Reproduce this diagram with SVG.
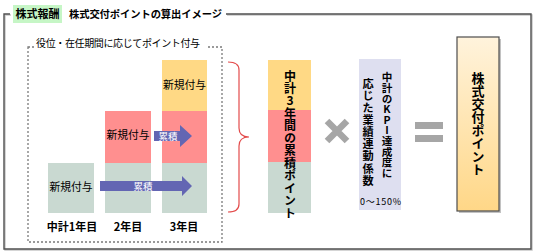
<svg xmlns="http://www.w3.org/2000/svg" width="533" height="252" viewBox="0 0 533 252">
<defs>
<style>
text{font-family:"Noto Sans CJK JP","Liberation Sans",sans-serif;fill:#000}
.b{font-weight:bold}
.vt{writing-mode:vertical-rl;text-orientation:upright}
.grn{fill:#c9d9d1}
.red{fill:#ff8f8f}
.yel{fill:#ffd985}
.arw{fill:#6366b3}
</style>
<linearGradient id="gold" x1="0" y1="0" x2="0" y2="1">
<stop offset="0" stop-color="#fff3dc"/>
<stop offset="1" stop-color="#ffd787"/>
</linearGradient>
</defs>

<g id="frame">
<path d="M11,15 H5 V250 H532 V15 H227" fill="none" stroke="#c8c8c8" stroke-width="1.5"/>
<path d="M10,14 H4 V249 H531 V14 H226" fill="none" stroke="#505050" stroke-width="1.4"/>
<rect x="13" y="5" width="49" height="18" fill="#c6f6c6"/>
<text x="37.5" y="18" class="b" font-size="11" text-anchor="middle">株式報酬</text>
<text x="69" y="18" class="b" font-size="10.3" textLength="153">株式交付ポイントの算出イメージ</text>
</g>

<g id="period-box">
<rect x="28" y="47" width="194" height="195" fill="none" stroke="#7a7a7a" stroke-width="1.3" stroke-dasharray="2,2"/>
<rect x="34" y="38" width="173" height="14" fill="#fff"/>
<text x="36" y="47" font-size="10" textLength="164">役位・在任期間に応じてポイント付与</text>
</g>

<g id="year1">
<rect x="48" y="163" width="46" height="50" class="grn"/>
<text x="71" y="191" font-size="10.8" text-anchor="middle">新規付与</text>
<text x="72" y="231" class="b" font-size="11" text-anchor="middle">中計1年目</text>
</g>
<g id="year2">
<rect x="105" y="163" width="46" height="50" class="grn"/>
<rect x="105" y="111" width="46" height="52" class="red"/>
<text x="128" y="139" font-size="10.8" text-anchor="middle">新規付与</text>
<text x="128" y="231" class="b" font-size="11" text-anchor="middle">2年目</text>
</g>
<g id="year3">
<rect x="162" y="163" width="45" height="50" class="grn"/>
<rect x="162" y="111" width="45" height="52" class="red"/>
<rect x="162" y="60" width="45" height="51" class="yel"/>
<text x="184.5" y="89" font-size="10.8" text-anchor="middle">新規付与</text>
<text x="184" y="231" class="b" font-size="11" text-anchor="middle">3年目</text>
</g>

<g id="connectors">
<path d="M100,181 H182 V176 L192,186 L182,196 V191 H100 Z" class="arw"/>
<text x="143" y="189.5" font-size="9.5" fill="#fff" style="fill:#fff" text-anchor="middle">累積</text>
<path d="M154,131 H180 V125 L192,136 L180,147 V141 H154 Z" class="arw"/>
<text x="168" y="139.5" font-size="9.5" style="fill:#fff" text-anchor="middle">累積</text>
<path d="M228,62 Q239,62 239,70 V128 Q239,137 249,137 Q239,137 239,146 V204 Q239,212 228,212" fill="none" stroke="#e34b4b" stroke-width="1.2"/>
</g>

<g id="accumulated">
<rect x="268" y="60" width="43" height="50" class="yel"/>
<rect x="268" y="110" width="43" height="52" class="red"/>
<rect x="268" y="162" width="43" height="51" class="grn"/>
<text x="290" y="70" class="b vt" font-size="12" letter-spacing="0.45">中計3年間の累積ポイント</text>
</g>

<g id="times">
<path d="M327,121 L347,141 M347,121 L327,141" stroke="#a6a6a6" stroke-width="6.5"/>
</g>

<g id="coefficient">
<rect x="359" y="59" width="42" height="151" fill="#dedff0"/>
<text x="387" y="72" class="b vt" font-size="10.6">中計のKPI達成度に</text>
<text x="368" y="78" class="b vt" font-size="11.2" letter-spacing="0.9">応じた業績連動係数</text>
<text x="380.5" y="205" font-size="9" text-anchor="middle" textLength="41">0〜150%</text>
</g>

<g id="equals">
<rect x="415" y="122" width="28" height="7" fill="#a6a6a6"/>
<rect x="415" y="135" width="28" height="7" fill="#a6a6a6"/>
</g>

<g id="result">
<rect x="459" y="39" width="42" height="174" fill="#9a9a9a" opacity="0.6"/>
<rect x="457" y="37" width="42" height="174" fill="url(#gold)" stroke="#4d4d4d" stroke-width="1.2"/>
<text x="478" y="72" class="b vt" font-size="13">株式交付ポイント</text>
</g>
</svg>
